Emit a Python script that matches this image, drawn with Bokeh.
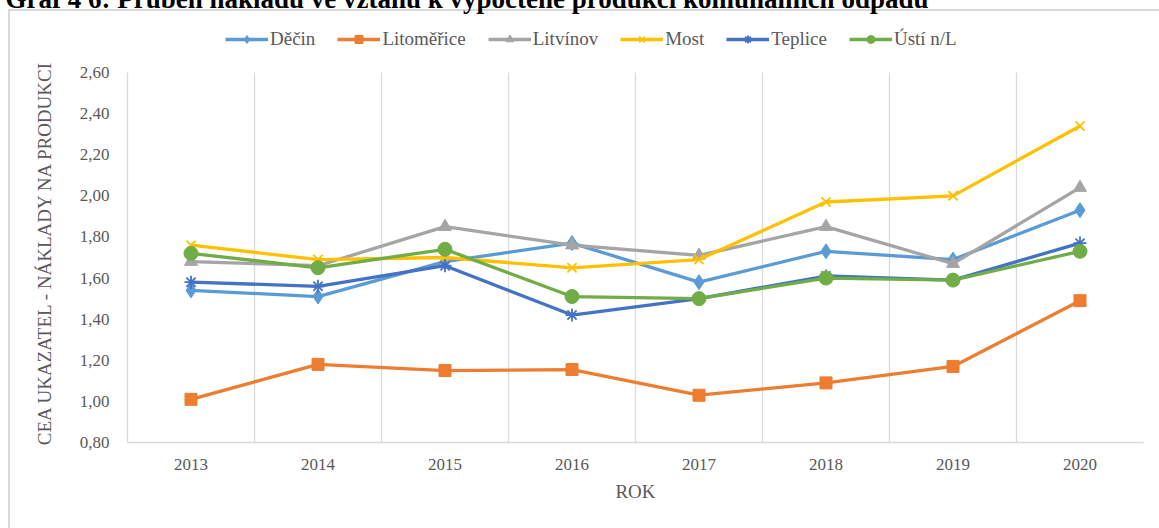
from bokeh.plotting import figure
from bokeh.models import (Legend, LegendItem, FixedTicker, CustomJSTickFormatter,
                          Range1d, FactorRange)
from bokeh.embed import file_html
from bokeh.resources import INLINE

years = ["2013", "2014", "2015", "2016", "2017", "2018", "2019", "2020"]
decin = [1.54, 1.51, 1.68, 1.77, 1.58, 1.73, 1.69, 1.93]
litomerice = [1.01, 1.18, 1.15, 1.155, 1.03, 1.09, 1.17, 1.49]
litvinov = [1.68, 1.66, 1.85, 1.76, 1.71, 1.85, 1.67, 2.04]
most = [1.76, 1.69, 1.70, 1.65, 1.69, 1.97, 2.00, 2.34]
teplice = [1.58, 1.56, 1.66, 1.42, 1.50, 1.61, 1.59, 1.77]
usti = [1.72, 1.65, 1.74, 1.51, 1.50, 1.60, 1.59, 1.73]
y_ticks = [0.8, 1.0, 1.2, 1.4, 1.6, 1.8, 2.0, 2.2, 2.4, 2.6]
y_min, y_max = 0.8, 2.6

title_text = "Graf 4 6: Průběh nákladů ve vztahu k vypočtené produkci komunálních odpadů"
y_label = "CEA UKAZATEL - NÁKLADY NA PRODUKCI"
FONT = "Liberation Serif"
TXT = "#595959"

# layout (pixels): plot area 72..442 vertically; frame extended upward to hold legend
FRAME_TOP, AXIS_TOP, FRAME_BOTTOM = 0, 72, 442
y_top = y_max + (AXIS_TOP - FRAME_TOP) * (y_max - y_min) / (FRAME_BOTTOM - AXIS_TOP)

p = figure(width=1159, height=528, x_range=FactorRange(*years), y_range=Range1d(y_min, y_top),
           output_backend="svg", toolbar_location=None,
           min_border_left=127, min_border_right=16, min_border_top=0,
           min_border_bottom=528 - FRAME_BOTTOM)
p.outline_line_color = None
p.background_fill_alpha = 0
p.border_fill_alpha = 0
p.styles = {
    "background-color": "white",
    "background-image": "linear-gradient(#d9d9d9,#d9d9d9), linear-gradient(#d9d9d9,#d9d9d9)",
    "background-size": "2px 100%, 100% 2px",
    "background-position": "8px 9px, 8px 9px",
    "background-repeat": "no-repeat",
}

# title (cut off at top as in the reference)
p.title.text = title_text
p.title.text_font = FONT
p.title.text_font_style = "bold"
p.title.text_font_size = "27px"
p.title.text_color = "#000000"
p.title.align = "left"
p.title.vertical_align = "top"
p.title.offset = 5 - 127
p.title.standoff = -34

# grids
p.ygrid.grid_line_color = None
p.xgrid.ticker = FixedTicker(ticks=[1, 2, 3, 4, 5, 6, 7, 8])
p.xgrid.cross_bounds = (y_min, y_max)
p.xgrid.grid_line_color = "#d9d9d9"
p.xgrid.grid_line_width = 1.3

# axes
p.yaxis.ticker = FixedTicker(ticks=y_ticks)
p.yaxis.bounds = (y_min, y_max)
p.yaxis.formatter = CustomJSTickFormatter(code="return tick.toFixed(2).replace('.', ',');")
for ax in (p.xaxis[0], p.yaxis[0]):
    ax.axis_line_color = "#d9d9d9"
    ax.axis_line_width = 1.3
    ax.major_tick_line_color = None
    ax.minor_tick_line_color = None
    ax.major_label_text_font = FONT
    ax.major_label_text_font_size = "17px"
    ax.major_label_text_color = TXT
    ax.axis_label_text_font = FONT
    ax.axis_label_text_font_size = "19px"
    ax.axis_label_text_font_style = "normal"
    ax.axis_label_text_color = TXT
# label shifted toward the 0.8-2.6 part of the axis (frame extends above it)
p.yaxis.axis_label = y_label + "\u00a0" * 13
p.yaxis.major_label_standoff = 12
p.yaxis.axis_label_standoff = 22
p.xaxis.axis_label = "ROK"
p.xaxis.major_label_standoff = 10
p.xaxis.axis_label_standoff = 8

series = [
    ("Děčin", decin, "#5B9BD5", "diamond", 15),
    ("Litoměřice", litomerice, "#ED7D31", "square", 12),
    ("Litvínov", litvinov, "#A5A5A5", "triangle", 13),
    ("Most", most, "#FFC000", "x", 13),
    ("Teplice", teplice, "#4472C4", "asterisk", 13),
    ("Ústí n/L", usti, "#70AD47", "circle", 14),
]
items = []
for name, vals, col, marker, size in series:
    l = p.line(years, vals, line_color=col, line_width=3.3)
    if marker in ("x", "asterisk"):
        s = p.scatter(years, vals, marker=marker, size=size, line_color=col, line_width=1.8, fill_color=None)
    else:
        s = p.scatter(years, vals, marker=marker, size=size, line_color=col, fill_color=col)
    items.append(LegendItem(label=name, renderers=[l, s]))

legend = Legend(items=items, orientation="horizontal", location=(98, 392), nrows=1,
                glyph_width=43, glyph_height=20, label_height=20, label_standoff=2, spacing=22,
                padding=0, margin=0, border_line_color=None, background_fill_alpha=0,
                label_text_font=FONT, label_text_font_size="19px", label_text_color=TXT)
p.add_layout(legend, "center")

open("out.html", "w").write(file_html(p, INLINE))
